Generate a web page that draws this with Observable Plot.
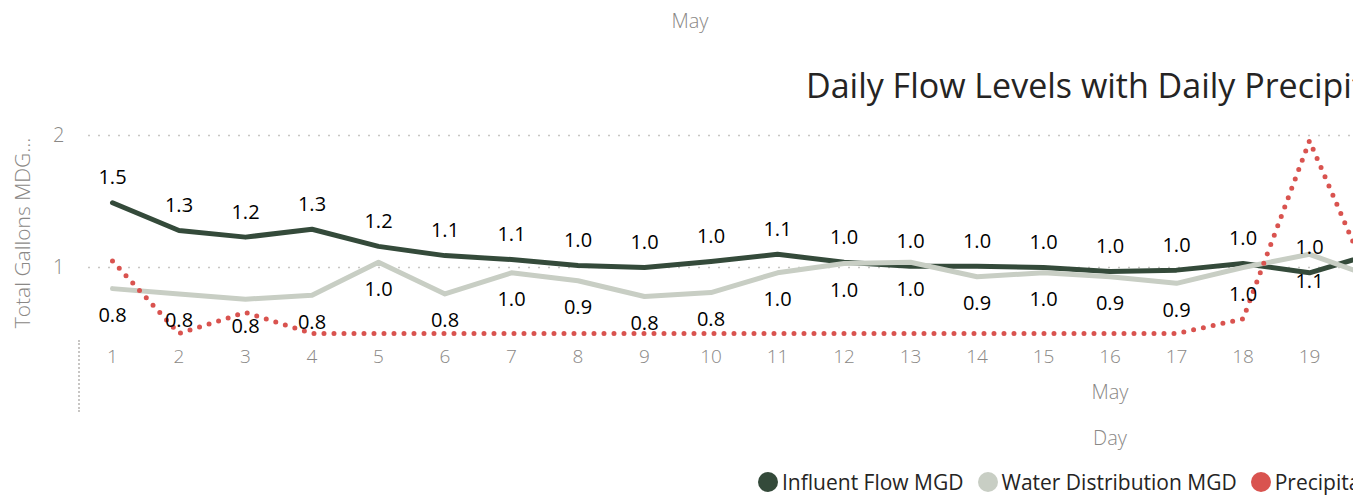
<!DOCTYPE html>
<html><head><meta charset="utf-8">
<script src="https://cdn.jsdelivr.net/npm/d3@7"></script>
<script src="https://cdn.jsdelivr.net/npm/@observablehq/plot@0.6"></script>
<style>
html,body{margin:0;padding:0;background:#fff;overflow:hidden;width:1353px;height:496px;}
#wrap{position:relative;width:2200px;height:496px;font-family:"Open Sans",sans-serif;}
.gray{position:absolute;color:#8a8886;font-weight:300;font-size:20px;transform:translate(-50%,-50%);white-space:nowrap;}
#title{position:absolute;left:806px;top:85px;transform:translateY(-50%);font-size:34px;color:#252423;white-space:nowrap;font-weight:400;}
#ytitle{position:absolute;left:22px;top:233px;transform:translate(-50%,-50%) rotate(-90deg);color:#8a8886;font-size:21px;font-weight:300;white-space:nowrap;}
#chart{position:absolute;left:0;top:100px;}
#sep{position:absolute;left:78px;top:340px;height:72px;border-left:2px dotted #c8c6c4;}
#legend{position:absolute;left:758px;top:482px;transform:translateY(-50%);display:flex;align-items:center;font-size:21px;color:#252423;white-space:nowrap;}
#legend .sw{width:20px;height:20px;border-radius:50%;margin-right:4px;}
#legend .it{display:flex;align-items:center;margin-right:14px;}
</style></head>
<body><div id="wrap">
<div class="gray" style="left:690px;top:20px;">May</div>
<div id="title">Daily Flow Levels with Daily Precipitation</div>
<div id="ytitle">Total Gallons MDG...</div>
<div id="chart"></div>
<div id="sep"></div>
<div id="legend"></div>
</div>
<script>
// Data (May, days 1–20 visible)
const days = [1,2,3,4,5,6,7,8,9,10,11,12,13,14,15,16,17,18,19,20];
const influentMGD = [1.49,1.28,1.23,1.29,1.16,1.09,1.06,1.015,1.00,1.045,1.10,1.04,1.01,1.01,1.00,0.97,0.98,1.03,0.96,1.11];
const waterDistMGD = [0.84,0.80,0.76,0.79,1.04,0.80,0.96,0.90,0.78,0.81,0.96,1.03,1.04,0.93,0.96,0.93,0.88,1.00,1.10,0.92];
const precipIn = [0.55,0.00,0.16,0.00,0.00,0.00,0.00,0.00,0.00,0.00,0.00,0.00,0.00,0.00,0.00,0.00,0.00,0.11,1.46,0.29];
const dayTicks = [1,2,3,4,5,6,7,8,9,10,11,12,13,14,15,16,17,18,19,20,21,22,23,24,25,26,27,28,29,30,31];
const yTicks = [1,2];
const seriesNames = ["Influent Flow MGD","Water Distribution MGD","Precipitation"];
const seriesColors = ["#344a3a","#c8cec4","#d9534f"];
const monthLabel = "May";
const xTitle = "Day";

// Precipitation is on a hidden secondary axis: map it onto the primary scale
const precipBase = 0.5, precipScale = 1.0;
const toPrimary = p => precipBase + p * precipScale;

const rows = days.map((d,i)=>({day:d, influent:influentMGD[i], water:waterDistMGD[i], precip:toPrimary(precipIn[i])}));

const labelFont = "Open Sans, sans-serif";
const plot = Plot.plot({
  width: 2180, height: 360,
  marginLeft: 88, marginRight: 73, marginTop: 0, marginBottom: 120,
  style: {fontFamily: labelFont, background: "transparent", overflow: "visible"},
  x: {domain: [1,31], range: [112, 2107]},
  y: {domain: [0.447, 2.265]},
  marks: [
    Plot.gridY(yTicks, {stroke: "#c8c6c4", strokeOpacity: 1, strokeWidth: 1.5, strokeDasharray: "2,8"}),
    Plot.axisY(yTicks, {tickSize: 0, tickPadding: 24, label: null, fontSize: 20, color: "#8a8886", fontWeight: 300, tickFormat: d => String(d)}),
    Plot.axisX(dayTicks, {tickSize: 0, tickPadding: 9, label: null, fontSize: 19, color: "#8a8886", fontWeight: 300, tickFormat: d => String(d)}),
    Plot.line(rows, {x: "day", y: "influent", stroke: seriesColors[0], strokeWidth: 5, strokeLinejoin: "round"}),
    Plot.line(rows, {x: "day", y: "water", stroke: seriesColors[1], strokeWidth: 5, strokeLinejoin: "round"}),
    Plot.line(rows, {x: "day", y: "precip", stroke: seriesColors[2], strokeWidth: 5, strokeDasharray: "0,10", strokeLinecap: "round"}),
    Plot.text(rows, {x: "day", y: "influent", text: d => d.influent.toFixed(1), dy: -25, fontSize: 20, fill: "#000"}),
    Plot.text(rows, {x: "day", y: "water", text: d => d.water.toFixed(1), dy: 27, fontSize: 20, fill: "#000"}),
    Plot.text([monthLabel], {x: () => 16, frameAnchor: "bottom", dy: 58, fontSize: 20, fill: "#8a8886", fontWeight: 300}),
    Plot.text([xTitle], {x: () => 16, frameAnchor: "bottom", dy: 104, fontSize: 20, fill: "#8a8886", fontWeight: 300})
  ]
});
document.getElementById("chart").appendChild(plot);

const legend = document.getElementById("legend");
seriesNames.forEach((n,i)=>{
  const it = document.createElement("div"); it.className = "it";
  const sw = document.createElement("div"); sw.className = "sw"; sw.style.background = seriesColors[i];
  const tx = document.createElement("span"); tx.textContent = n;
  it.appendChild(sw); it.appendChild(tx); legend.appendChild(it);
});
</script>
</body></html>
